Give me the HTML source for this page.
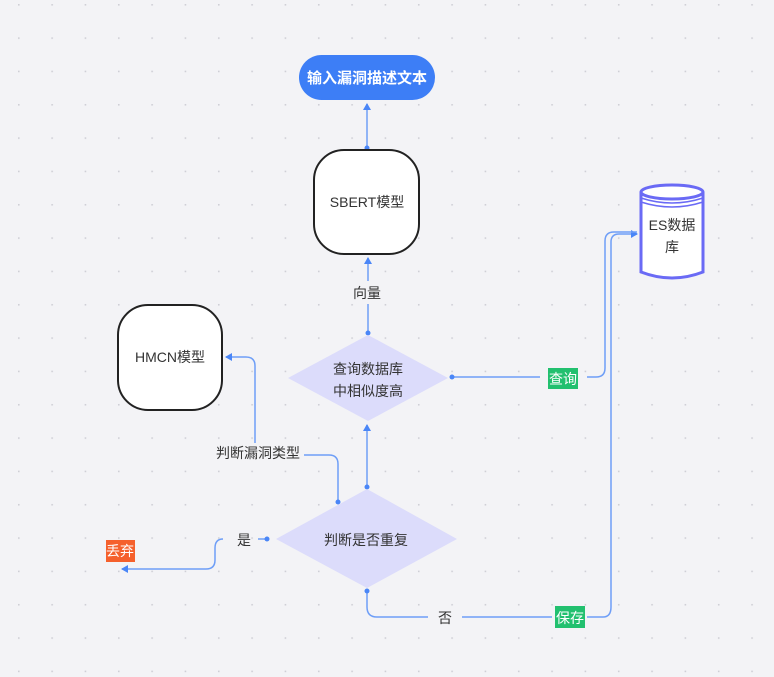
<!DOCTYPE html>
<html><head><meta charset="utf-8"><style>
html,body{margin:0;padding:0;background:#f3f3f6;}
svg{display:block;font-family:"Liberation Sans","Noto Sans CJK SC",sans-serif;}
</style></head><body>
<svg width="774" height="677" viewBox="0 0 774 677" xmlns="http://www.w3.org/2000/svg">
<defs>
<pattern id="dots" x="18" y="4" width="33.33" height="33.33" patternUnits="userSpaceOnUse">
<rect x="0" y="0" width="1.6" height="1.6" fill="#cfcfd6"/>
</pattern>
<marker id="ar" markerWidth="8" markerHeight="8" refX="6" refY="4" orient="auto" markerUnits="userSpaceOnUse">
<path d="M0,0 L7,4 L0,8 Z" fill="#4a86f7"/>
</marker>
</defs>
<rect width="774" height="677" fill="#f3f3f6"/>
<rect width="774" height="677" fill="url(#dots)"/>

<g fill="none" stroke="#6e9ef7" stroke-width="1.5">
<!-- SBERT to top -->
<path d="M367 148 L367 104" marker-end="url(#ar)"/>
<!-- diamond1 to SBERT -->
<path d="M368 333 L368 304"/>
<path d="M368 281 L368 258" marker-end="url(#ar)"/>
<!-- diamond2 to diamond1 -->
<path d="M367 487 L367 425" marker-end="url(#ar)"/>
<!-- diamond2 to HMCN -->
<path d="M338 502 L338 464 Q338 455 329 455 L304 455"/>
<path d="M255 443 L255 366 Q255 357 246 357 L226 357" marker-end="url(#ar)"/>
<!-- yes -->
<path d="M267 539 L258 539"/>
<path d="M223 539 Q215 539 215 548 L215 560 Q215 569 206 569 L122 569" marker-end="url(#ar)"/>
<!-- no -->
<path d="M367 591 L367 607 Q367 617 377 617 L428 617"/>
<path d="M462 617 L552 617"/>
<path d="M587 617 L603 617 Q611 617 611 607 L611 242 Q611 234 619 234 L637 234" marker-end="url(#ar)"/>
<!-- query -->
<path d="M452 377 L540 377"/>
<path d="M587 377 L596 377 Q605 377 605 368 L605 241 Q605 232 614 232 L637 232"/>
</g>
<g fill="#4a86f7">
<circle cx="367" cy="148" r="2.5"/><circle cx="368" cy="333" r="2.5"/><circle cx="367" cy="487" r="2.5"/>
<circle cx="338" cy="502" r="2.5"/><circle cx="267" cy="539" r="2.5"/><circle cx="367" cy="591" r="2.5"/>
<circle cx="452" cy="377" r="2.5"/>
</g>

<!-- top pill -->
<rect x="299" y="55" width="136" height="45" rx="22.5" fill="#3d7ef6"/>
<text x="367" y="83" font-size="15" font-weight="bold" fill="#fff" text-anchor="middle">输入漏洞描述文本</text>

<!-- SBERT -->
<rect x="314" y="150" width="105" height="104" rx="30" fill="#fff" stroke="#222" stroke-width="2"/>
<text x="367" y="207" font-size="14" fill="#333" text-anchor="middle">SBERT模型</text>

<!-- HMCN -->
<rect x="118" y="305" width="104" height="105" rx="30" fill="#fff" stroke="#222" stroke-width="2"/>
<text x="170" y="362" font-size="14" fill="#333" text-anchor="middle">HMCN模型</text>

<!-- diamond 1 -->
<polygon points="368,335 448,378 368,421 288,378" fill="#dcdcfb"/>
<text x="368" y="374" font-size="14" fill="#333" text-anchor="middle">查询数据库</text>
<text x="368" y="396" font-size="14" fill="#333" text-anchor="middle">中相似度高</text>

<!-- diamond 2 -->
<polygon points="367,489 457,539 367,588 276,539" fill="#dcdcfb"/>
<text x="366" y="545" font-size="14" fill="#333" text-anchor="middle">判断是否重复</text>

<!-- cylinder -->
<path d="M641 192 L641 272 Q672 284 703 272 L703 192" fill="#fff" stroke="#6a6af5" stroke-width="3"/>
<ellipse cx="672" cy="192" rx="31" ry="7" fill="#fff" stroke="#6a6af5" stroke-width="3"/>
<path d="M641 198 Q672 208 703 198 M641 202 Q672 212 703 202" fill="none" stroke="#6a6af5" stroke-width="1.5"/>
<text x="672" y="230" font-size="14" fill="#333" text-anchor="middle">ES数据</text>
<text x="672" y="252" font-size="14" fill="#333" text-anchor="middle">库</text>

<!-- labels -->
<text x="367" y="298" font-size="14" fill="#333" text-anchor="middle">向量</text>
<text x="258" y="458" font-size="14" fill="#333" text-anchor="middle">判断漏洞类型</text>
<text x="244" y="545" font-size="14" fill="#333" text-anchor="middle">是</text>
<text x="445" y="623" font-size="14" fill="#333" text-anchor="middle">否</text>
<rect x="548" y="368" width="30" height="21" fill="#22c06f"/>
<text x="563" y="384" font-size="14" fill="#fff" text-anchor="middle">查询</text>
<rect x="555" y="606" width="30" height="22" fill="#22c06f"/>
<text x="570" y="623" font-size="14" fill="#fff" text-anchor="middle">保存</text>
<rect x="106" y="540" width="29" height="22" fill="#f5602c"/>
<text x="120" y="556" font-size="14" fill="#fff" text-anchor="middle">丢弃</text>
</svg>
</body></html>
